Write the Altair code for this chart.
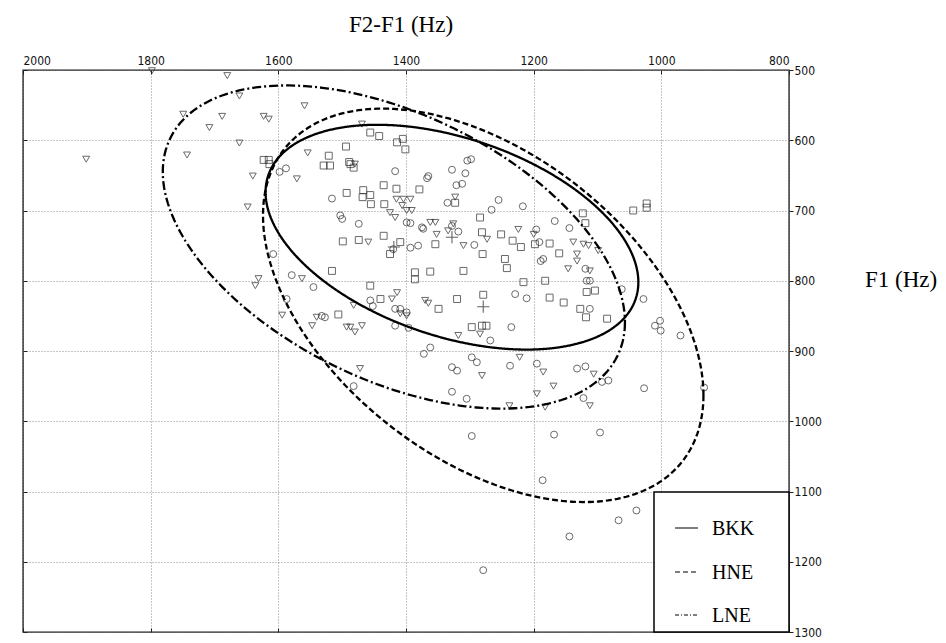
import altair as alt
import numpy as np
import pandas as pd

# ---------------- data ----------------
group_names = ["BKK", "HNE", "LNE"]

# BKK (squares)
bkk_f2f1 = [1494, 1521, 1529, 1519, 1487, 1623, 1615, 1614, 1493, 1499, 1474, 1516, 1506,
            1456, 1442, 1414, 1405, 1401, 1489, 1482, 1435, 1415, 1379, 1467, 1468, 1456, 1455, 1434,
            1323, 1284, 1435, 1409, 1425, 1354, 1281, 1251, 1233, 1220, 1198, 1175, 1280, 1160, 1245,
            1242, 1123, 1119, 1044, 1023, 1023, 1386, 1362, 1310, 1386, 1216, 1182, 1456, 1117, 1104,
            1279, 1440, 1320, 1349, 1175, 1153, 1127, 1118, 1085, 1297, 1281, 1274]
bkk_f1 = [609, 622, 636, 636, 634, 628, 628, 634, 675, 744, 742, 786, 848,
          589, 594, 603, 598, 613, 631, 639, 664, 669, 670, 671, 681, 678, 691, 691,
          689, 710, 736, 745, 762, 748, 731, 734, 743, 752, 748, 747, 762, 761, 769,
          782, 704, 718, 700, 690, 696, 788, 787, 786, 798, 802, 800, 807, 816, 814,
          820, 826, 826, 840, 824, 831, 840, 852, 854, 866, 864, 864]

# HNE (circles)
hne_f2f1 = [1598, 1588, 1516, 1503, 1500, 1474, 1608, 1579, 1545, 1587, 1532,
            1298, 1304, 1417, 1365, 1367, 1328, 1307, 1321, 1312, 1335, 1255, 1266, 1217, 1167,
            1144, 1196, 1393, 1399, 1375, 1373, 1328, 1318, 1293, 1191, 1185, 1189, 1393, 1381,
            1420, 1119, 1117, 1112, 1229, 1211, 1062, 1028, 1010, 1002, 1001, 970, 1112, 1235,
            1268, 1362, 1372, 1328, 1320, 1297, 1289, 1237, 1195, 1132, 1119, 1417, 1409, 1399,
            1417, 1396, 1456, 1452,
            1527, 1328, 1305, 1482, 1122, 1297, 1168, 1186, 1144, 1279, 1096,
            1093, 1083, 1027, 933, 1039, 1067]
hne_f1 = [645, 640, 683, 707, 712, 719, 762, 792, 809, 826, 850,
          627, 629, 644, 651, 654, 642, 647, 664, 662, 689, 685, 699, 694, 715,
          725, 727, 718, 717, 724, 726, 722, 730, 749, 745, 769, 772, 753, 750,
          755, 783, 800, 800, 819, 825, 812, 826, 864, 857, 871, 878, 840, 866,
          885, 895, 904, 923, 928, 909, 916, 921, 918, 925, 922, 840, 840, 845,
          864, 867, 828, 836,
          852, 958, 968, 950, 967, 1021, 1019, 1084, 1164, 1212, 1016,
          944, 942, 953, 952, 1127, 1141]

# LNE (triangles)
lne_f2f1 = [1798, 1680, 1661, 1749, 1688, 1708, 1623, 1615, 1559, 1661, 1901, 1743, 1554,
            1640, 1571, 1648, 1631, 1636, 1563, 1482, 1594, 1547, 1540, 1493,
            1469, 1480, 1415, 1404, 1393, 1406, 1399, 1391, 1425, 1417, 1362, 1354, 1352, 1326,
            1334, 1310, 1273, 1323, 1224, 1200, 1138, 1132, 1122, 1114, 1099, 1132, 1146, 1112,
            1459, 1422, 1414, 1370, 1365, 1487, 1480, 1469, 1399, 1409, 1318, 1284, 1222, 1185,
            1106, 1281, 1472,
            1195, 1169, 1238, 1182, 1112]
lne_f1 = [501, 508, 537, 563, 566, 582, 566, 570, 551, 604, 627, 621, 618,
          651, 655, 695, 797, 807, 797, 835, 849, 864, 852, 866,
          577, 634, 684, 684, 684, 693, 700, 700, 703, 710, 717, 717, 734, 719,
          729, 750, 741, 681, 727, 734, 745, 762, 748, 750, 757, 772, 783, 786,
          745, 826, 817, 828, 832, 866, 873, 864, 850, 847, 878, 876, 909, 930,
          933, 935, 925,
          961, 950, 978, 980, 978]

# group means (+ markers)
mean_f2f1 = [1328, 1279, 1419]
mean_f1 = [738, 837, 752]

# ellipse parameters per group (centre, x half-extent, y half-extent,
# F1 offset of the low-F2-F1 extreme point)
ell_cx = [1328, 1279, 1419]
ell_cy = [738, 835, 752]
ell_wx = [292, 345, 362]
ell_hy = [160, 280, 230]
ell_tilt = [64, 128, 107]

x_ticks = [2000, 1800, 1600, 1400, 1200, 1000, 800]
y_ticks = [500, 600, 700, 800, 900, 1000, 1100, 1200, 1300]

x_title = ["F2-F1 (Hz)"]
y_title = ["F1 (Hz)"]

# ---------------- tables ----------------
pts = pd.concat([
    pd.DataFrame({"x": bkk_f2f1, "y": bkk_f1, "group": "BKK"}),
    pd.DataFrame({"x": hne_f2f1, "y": hne_f1, "group": "HNE"}),
    pd.DataFrame({"x": lne_f2f1, "y": lne_f1, "group": "LNE"}),
], ignore_index=True)

t = np.linspace(0, 2 * np.pi, 241)
rows = []
for g, cx, cy, wx, hy, d in zip(group_names, ell_cx, ell_cy, ell_wx, ell_hy, ell_tilt):
    k = np.sqrt(hy ** 2 - d ** 2)
    ex = cx - wx * np.cos(t)
    ey = cy + d * np.cos(t) + k * np.sin(t)
    rows.append(pd.DataFrame({"x": ex, "y": ey, "group": g, "i": np.arange(len(t))}))
ell_df = pd.concat(rows, ignore_index=True)

means = pd.DataFrame({"x": mean_f2f1, "y": mean_f1, "group": group_names})

# ---------------- chart ----------------
W, H = 766, 562
XS = alt.Scale(domain=[800, 2000], reverse=True, nice=False, zero=False)
YS = alt.Scale(domain=[500, 1300], reverse=True, nice=False, zero=False)
tick_font = "'Liberation Sans Narrow', 'DejaVu Sans Condensed', 'Arial Narrow', sans-serif"
serif = "'Liberation Serif', 'Times New Roman', serif"
dash_styles = [[1, 0], [6, 3], [9, 3, 2, 3]]
legend_dash = [[1, 0], [5, 3], [4, 2, 1, 2]]

grid_kw = dict(grid=True, gridDash=[1, 2], gridColor="#7a7a7a", gridWidth=1, gridOpacity=0.85)
lab_kw = dict(labelFont=tick_font, labelFontSize=12, labelColor="#111", title=None, domain=False)

ellipses = alt.Chart(ell_df).mark_line(color="black", strokeWidth=2.3).encode(
    x=alt.X("x:Q", scale=XS, axis=alt.Axis(orient="top", values=x_ticks, ticks=False,
                                           labelPadding=3, format="d", **grid_kw, **lab_kw)),
    y=alt.Y("y:Q", scale=YS, axis=alt.Axis(orient="right", values=y_ticks, ticks=True, tickSize=4,
                                           tickColor="#222", labelPadding=1, format="d",
                                           **grid_kw, **lab_kw)),
    strokeDash=alt.StrokeDash("group:N", scale=alt.Scale(domain=group_names, range=dash_styles),
                              legend=None),
    order=alt.Order("i:Q"),
)

tick_in = dict(labels=False, domain=False, grid=False, title=None, tickSize=4, tickColor="#222", offset=-4)

points = alt.Chart(pts).mark_point(filled=False, size=48, strokeWidth=1, color="#2a2a2a").encode(
    x=alt.X("x:Q", scale=XS, axis=alt.Axis(orient="top", values=x_ticks, **tick_in)),
    y=alt.Y("y:Q", scale=YS, axis=alt.Axis(orient="left", values=y_ticks, **tick_in)),
    shape=alt.Shape("group:N", scale=alt.Scale(domain=group_names,
                                               range=["square", "circle", "triangle-down"]),
                    legend=None),
)

plus = alt.Chart(means).mark_point(shape="M-1,0L1,0M0,-1L0,1", size=150, strokeWidth=1.1,
                                   color="#222").encode(
    x=alt.X("x:Q", scale=XS, axis=alt.Axis(orient="bottom", values=x_ticks, **tick_in)),
    y=alt.Y("y:Q", scale=YS, axis=None),
)

# legend drawn by hand: box, line samples and labels
legend_box = alt.Chart(pd.DataFrame({"k": [0]})).mark_rect(
    fill="white", stroke="black", strokeWidth=1.5
).encode(x=alt.value(631), x2=alt.value(W), y=alt.value(422), y2=alt.value(H))

row_y = [458, 502, 545]
legend_layers = []
for g, dash, ry in zip(group_names, legend_dash, row_y):
    gdf = pd.DataFrame({"g": [g]})
    legend_layers.append(
        alt.Chart(gdf).mark_rule(color="black", strokeWidth=1.2, strokeDash=dash).encode(
            x=alt.value(652), x2=alt.value(675), y=alt.value(ry))
    )
    legend_layers.append(
        alt.Chart(gdf).mark_text(font=serif, fontSize=20, color="black", align="left",
                                 baseline="middle").encode(
            text="g:N", x=alt.value(689), y=alt.value(ry + 1))
    )

xt = alt.Chart(pd.DataFrame({"t": x_title})).mark_text(
    font=serif, fontSize=23, color="black", baseline="middle", align="center"
).encode(text="t:N", x=alt.value(378), y=alt.value(-45))

yt = alt.Chart(pd.DataFrame({"t": y_title})).mark_text(
    font=serif, fontSize=23, color="black", baseline="middle", align="left"
).encode(text="t:N", x=alt.value(842), y=alt.value(210))

chart = alt.layer(points, ellipses, plus, legend_box, *legend_layers, xt, yt).resolve_axis(
    x="independent", y="independent"
).properties(
    width=W, height=H,
    autosize=alt.AutoSizeParams(type="none"),
    padding={"left": 15, "top": 62, "right": 149, "bottom": 7},
    background="white",
).configure_view(stroke="#1a1a1a", strokeWidth=1.4)

chart.save("out.html", embed_options={"renderer": "svg", "actions": False})
